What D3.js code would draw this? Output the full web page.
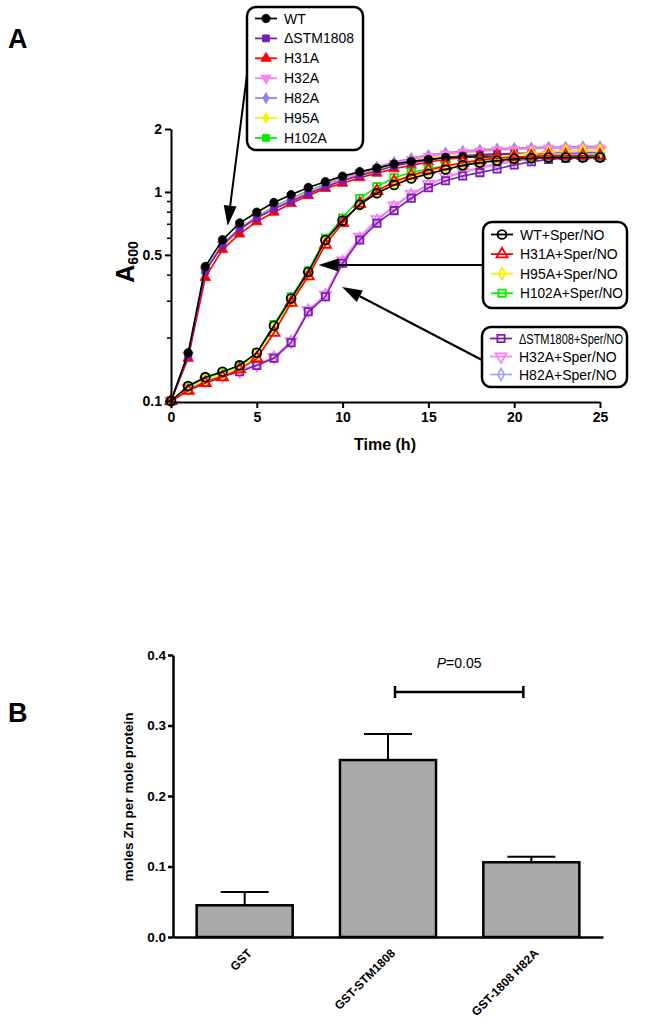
<!DOCTYPE html>
<html><head><meta charset="utf-8">
<script src="https://cdn.jsdelivr.net/npm/d3@7"></script>
<style>
body{margin:0;background:#fff}
svg{display:block}
text{font-family:"Liberation Sans",Arial,Helvetica,sans-serif}
</style>
</head><body>
<svg id="c" width="667" height="1028"></svg>
<script>
// ---------- DATA: panel A ----------
const hours = [0,1,2,3,4,5,6,7,8,9,10,11,12,13,14,15,16,17,18,19,20,21,22,23,24,25];
const wt        = [0.1,0.17,0.44,0.59,0.71,0.80,0.89,0.97,1.05,1.12,1.19,1.25,1.30,1.36,1.40,1.43,1.46,1.47,1.47,1.47,1.46,1.46,1.46,1.46,1.46,1.46];
const dSTM      = [0.1,0.165,0.42,0.555,0.665,0.75,0.83,0.90,0.98,1.06,1.13,1.20,1.26,1.33,1.38,1.42,1.46,1.49,1.51,1.52,1.53,1.53,1.54,1.54,1.54,1.54];
const h31a      = [0.1,0.16,0.39,0.53,0.63,0.72,0.80,0.88,0.96,1.04,1.10,1.17,1.23,1.29,1.34,1.39,1.43,1.46,1.49,1.51,1.52,1.52,1.53,1.53,1.53,1.53];
const h32a      = [0.1,0.165,0.42,0.56,0.67,0.76,0.84,0.92,1.00,1.08,1.15,1.23,1.30,1.37,1.43,1.48,1.52,1.55,1.57,1.59,1.60,1.61,1.62,1.62,1.62,1.62];
const h82a      = [0.1,0.165,0.42,0.56,0.67,0.76,0.84,0.92,1.00,1.08,1.16,1.24,1.32,1.39,1.45,1.50,1.54,1.57,1.59,1.61,1.62,1.63,1.64,1.64,1.65,1.65];
const h95a      = [0.1,0.165,0.42,0.55,0.66,0.75,0.83,0.91,0.99,1.06,1.13,1.20,1.27,1.34,1.40,1.45,1.50,1.53,1.56,1.58,1.60,1.61,1.62,1.62,1.62,1.62];
const h102a     = [0.1,0.165,0.42,0.56,0.67,0.76,0.85,0.93,1.01,1.09,1.16,1.22,1.28,1.34,1.39,1.43,1.46,1.48,1.50,1.51,1.51,1.52,1.52,1.52,1.52,1.52];
const wtNO      = [0.1,0.118,0.130,0.138,0.148,0.170,0.229,0.309,0.414,0.589,0.729,0.869,0.986,1.08,1.16,1.22,1.28,1.34,1.38,1.41,1.44,1.45,1.46,1.46,1.46,1.46];
const h31aNO    = [0.1,0.112,0.122,0.130,0.142,0.160,0.212,0.295,0.395,0.560,0.71,0.88,1.01,1.12,1.20,1.27,1.33,1.38,1.42,1.45,1.47,1.48,1.49,1.49,1.49,1.49];
const h95aNO    = [0.1,0.115,0.126,0.134,0.145,0.166,0.222,0.300,0.400,0.575,0.72,0.87,1.00,1.10,1.18,1.25,1.31,1.37,1.42,1.46,1.50,1.53,1.55,1.57,1.58,1.58];
const h102aNO   = [0.1,0.117,0.129,0.137,0.148,0.170,0.232,0.315,0.420,0.600,0.75,0.93,1.06,1.17,1.24,1.29,1.33,1.36,1.39,1.42,1.44,1.46,1.47,1.48,1.48,1.48];
const dSTMNO    = [0.1,0.114,0.124,0.131,0.138,0.148,0.160,0.190,0.267,0.315,0.456,0.589,0.709,0.814,0.933,1.048,1.132,1.193,1.237,1.288,1.346,1.396,1.43,1.45,1.46,1.46];
const h32aNO    = [0.1,0.115,0.125,0.132,0.139,0.149,0.162,0.193,0.272,0.322,0.47,0.61,0.74,0.86,0.98,1.09,1.18,1.25,1.31,1.37,1.42,1.47,1.51,1.54,1.56,1.58];
const h82aNO    = [0.1,0.115,0.125,0.132,0.139,0.149,0.162,0.193,0.272,0.322,0.465,0.60,0.73,0.85,0.97,1.08,1.17,1.24,1.30,1.35,1.40,1.44,1.47,1.50,1.52,1.53];

const xTicksA = [0,5,10,15,20,25];
const yTicksA = [0.1,0.5,1,2];
const yMinorA = [0.2,0.3,0.4,0.6,0.7,0.8,0.9];

// legend groups (names, colours, markers)
const legend1 = [
  {name:"WT",       values:wt,    color:"#000000", shape:"circle",  open:false},
  {name:"\u0394STM1808", values:dSTM, color:"#7a1fb0", shape:"square", open:false},
  {name:"H31A",     values:h31a,  color:"#ff0000", shape:"triangle",open:false},
  {name:"H32A",     values:h32a,  color:"#ff80f0", shape:"tridown", open:false},
  {name:"H82A",     values:h82a,  color:"#9a82ea", shape:"diamond", open:false},
  {name:"H95A",     values:h95a,  color:"#f2f200", shape:"diamond", open:false},
  {name:"H102A",    values:h102a, color:"#00ee00", shape:"square",  open:false}
];
const legend2 = [
  {name:"WT+Sper/NO",   values:wtNO,    color:"#000000", shape:"circle",  open:true},
  {name:"H31A+Sper/NO", values:h31aNO,  color:"#ff0000", shape:"triangle",open:true},
  {name:"H95A+Sper/NO", values:h95aNO,  color:"#f2f200", shape:"diamond", open:true},
  {name:"H102A+Sper/NO",values:h102aNO, color:"#00ee00", shape:"square",  open:true}
];
const legend3 = [
  {name:"\u0394STM1808+Sper/NO", values:dSTMNO, color:"#7a1fb0", shape:"square", open:true},
  {name:"H32A+Sper/NO", values:h32aNO, color:"#ff80f0", shape:"tridown", open:true},
  {name:"H82A+Sper/NO", values:h82aNO, color:"#a8a8f8", shape:"diamond", open:true}
];
// arrow tips in data coordinates [hour, A600]
const arrowTips = [[3.3,0.69],[8.6,0.447],[9.97,0.351]];

// ---------- DATA: panel B ----------
const bCats = ["GST","GST-STM1808","GST-1808 H82A"];
const bMeans = [0.045,0.251,0.106];
const bErr   = [0.019,0.037,0.008];
const yTicksB = [0,0.1,0.2,0.3,0.4];
const pLabel = "0.05";

// ---------- DRAW ----------
const svg = d3.select("#c");
const ff = '"Liberation Sans",Arial,sans-serif';

// Panel A scales
const xA = d3.scaleLinear().domain([0,25]).range([171,600]);
const yA = d3.scaleLog().domain([0.1,2]).range([401,129]);

function symPath(shape, size){
  const t = {circle:d3.symbolCircle, square:d3.symbolSquare, triangle:d3.symbolTriangle,
             tridown:d3.symbolTriangle, diamond:d3.symbolDiamond}[shape];
  return d3.symbol().type(t).size(size)();
}
const symSize = {circle:56, square:48, triangle:48, tridown:48, diamond:36};

function drawMarker(g, s, x, y){
  const sz = symSize[s.shape];
  g.append("path")
    .attr("d", symPath(s.shape, s.open? sz*1.1 : sz))
    .attr("transform", `translate(${x},${y})` + (s.shape==="tridown"?" rotate(180)":""))
    .attr("fill", s.open ? "none" : s.color)
    .attr("stroke", s.color)
    .attr("stroke-width", s.open ? 1.8 : 0.8);
}

const line = d3.line().x((d,i)=>xA(hours[i])).y(d=>yA(d));
const plotA = svg.append("g");
const drawOrder = [legend1[6],legend1[5],legend1[4],legend1[3],legend1[2],legend1[1],legend1[0],
                   legend3[2],legend3[1],legend3[0],legend2[3],legend2[2],legend2[1],legend2[0]];
drawOrder.forEach(s=>{
  plotA.append("path").datum(s.values).attr("d", line)
    .attr("fill","none").attr("stroke", s.color).attr("stroke-width",1.6);
  s.values.forEach((v,i)=> drawMarker(plotA, s, xA(hours[i]), yA(v)));
});

// Axes A
const axA = svg.append("g").attr("transform",`translate(${xA(0)},0)`)
  .call(d3.axisLeft(yA).tickValues(yTicksA).tickFormat(d=>d).tickSize(6).tickSizeOuter(0).tickPadding(3));
axA.selectAll("text").attr("font-size",14).attr("font-weight","bold").attr("font-family",ff).attr("fill","#000");
axA.select(".domain").attr("stroke-width",2);
axA.selectAll(".tick line").attr("stroke-width",2);
svg.append("g").selectAll("line").data(yMinorA).join("line")
  .attr("x1",xA(0)-4).attr("x2",xA(0)).attr("y1",d=>yA(d)).attr("y2",d=>yA(d))
  .attr("stroke","#000").attr("stroke-width",1.5);

const axXA = svg.append("g").attr("transform",`translate(0,${yA(0.1)+1})`)
  .call(d3.axisBottom(xA).tickValues(xTicksA).tickSize(6).tickSizeOuter(0).tickPadding(4));
axXA.selectAll("text").attr("font-size",14).attr("font-weight","bold").attr("font-family",ff).attr("fill","#000");
axXA.select(".domain").attr("stroke-width",2);
axXA.selectAll(".tick line").attr("stroke-width",2);

svg.append("text").attr("x",385).attr("y",450).attr("text-anchor","middle")
  .attr("font-size",16).attr("font-weight","bold").text("Time (h)");
const yl = svg.append("text").attr("transform","translate(134,262) rotate(-90)").attr("text-anchor","middle")
  .attr("font-weight","bold");
yl.append("tspan").attr("font-size",25).text("A");
yl.append("tspan").attr("font-size",14).attr("dy",4).text("600");

svg.append("text").attr("x",8).attr("y",48).attr("font-size",27).attr("font-weight","bold").text("A");

// Legends
function drawLegend(items, x0, y0, w, rowH, top, h){
  const g = svg.append("g");
  g.append("rect").attr("x",x0).attr("y",top).attr("width",w).attr("height",h)
    .attr("rx",9).attr("fill","#fff").attr("stroke","#000").attr("stroke-width",2.5);
  items.forEach((s,i)=>{
    const y = y0 + i*rowH;
    g.append("line").attr("x1",x0+8).attr("x2",x0+30).attr("y1",y).attr("y2",y)
      .attr("stroke",s.color).attr("stroke-width",1.8);
    drawMarker(g, s, x0+19, y);
    const t = g.append("text").attr("x",x0+37).attr("y",y+5).attr("font-size",14).attr("fill","#000").text(s.name);
    const maxW = w - 41;
    if (t.node().getComputedTextLength() > maxW) t.attr("textLength", maxW).attr("lengthAdjust","spacingAndGlyphs");
  });
}
function arrow(x1,y1,x2,y2){
  const g = svg.append("g");
  const a = Math.atan2(y2-y1,x2-x1), L=20, W=6.5;
  const bx = x2 - L*Math.cos(a), by = y2 - L*Math.sin(a);
  g.append("line").attr("x1",x1).attr("y1",y1).attr("x2",bx).attr("y2",by)
    .attr("stroke","#000").attr("stroke-width",2);
  const px = -Math.sin(a)*W, py = Math.cos(a)*W;
  g.append("path").attr("d",`M${x2},${y2}L${bx+px},${by+py}L${bx-px},${by-py}Z`).attr("fill","#000");
}
arrow(248,67, xA(arrowTips[0][0]), yA(arrowTips[0][1]));
arrow(483,265, xA(arrowTips[1][0]), yA(arrowTips[1][1]));
arrow(482,360, xA(arrowTips[2][0]), yA(arrowTips[2][1]));

drawLegend(legend1, 247, 18.5, 116, 19.9, 7, 143);
drawLegend(legend2, 483, 234.5, 144, 19.6, 222, 86);
drawLegend(legend3, 482, 338.5, 145, 18, 327, 60);

// ---------- Panel B ----------
const xB = d3.scaleBand().domain(bCats).range([173,603]).paddingInner(0.33).paddingOuter(0.165);
const yB = d3.scaleLinear().domain([0,0.4]).range([937,655]);

const gB = svg.append("g");
gB.selectAll("rect").data(bCats).join("rect")
  .attr("x",d=>xB(d)).attr("width",xB.bandwidth())
  .attr("y",(d,i)=>yB(bMeans[i])).attr("height",(d,i)=>yB(0)-yB(bMeans[i]))
  .attr("fill","#a9a9a9").attr("stroke","#000").attr("stroke-width",2.5);
bCats.forEach((c,i)=>{
  const cx = xB(c)+xB.bandwidth()/2;
  gB.append("line").attr("x1",cx).attr("x2",cx).attr("y1",yB(bMeans[i])).attr("y2",yB(bMeans[i]+bErr[i]))
    .attr("stroke","#000").attr("stroke-width",2);
  gB.append("line").attr("x1",cx-24).attr("x2",cx+24).attr("y1",yB(bMeans[i]+bErr[i])).attr("y2",yB(bMeans[i]+bErr[i]))
    .attr("stroke","#000").attr("stroke-width",2);
});

const axB = svg.append("g").attr("transform","translate(173,0)")
  .call(d3.axisLeft(yB).tickValues(yTicksB).tickFormat(d3.format(".1f")).tickSize(5).tickSizeOuter(0).tickPadding(2));
axB.selectAll("text").attr("font-size",13.5).attr("font-weight","bold").attr("font-family",ff).attr("fill","#000");
axB.select(".domain").attr("stroke-width",2.5);
axB.selectAll(".tick line").attr("stroke-width",2.5);

const axXB = svg.append("g").attr("transform","translate(0,937)")
  .call(d3.axisBottom(xB).tickSize(0).tickSizeOuter(0).tickPadding(0));
axXB.select(".domain").attr("stroke-width",2.5);
axXB.selectAll("text").attr("font-size",12).attr("font-weight","bold").attr("font-family",ff).attr("fill","#000")
  .attr("text-anchor","end").attr("transform","translate(5,14) rotate(-45)").attr("dy","0.35em");

svg.append("text").attr("transform","translate(133,797) rotate(-90)").attr("text-anchor","middle")
  .attr("font-size",13.5).attr("font-weight","bold").text("moles Zn per mole protein");
svg.append("text").attr("x",8).attr("y",722).attr("font-size",27).attr("font-weight","bold").text("B");

// significance bracket
const bx1 = xB(bCats[1])+xB.bandwidth()/2+7, bx2 = xB(bCats[2])+xB.bandwidth()/2-8, byy = 692;
const sg = svg.append("g").attr("stroke","#000").attr("stroke-width",2.5);
sg.append("line").attr("x1",bx1).attr("x2",bx2).attr("y1",byy).attr("y2",byy);
sg.append("line").attr("x1",bx1).attr("x2",bx1).attr("y1",byy-6).attr("y2",byy+6);
sg.append("line").attr("x1",bx2).attr("x2",bx2).attr("y1",byy-6).attr("y2",byy+6);
const pt = svg.append("text").attr("x",(bx1+bx2)/2).attr("y",668).attr("text-anchor","middle").attr("font-size",14);
pt.append("tspan").attr("font-style","italic").text("P");
pt.append("tspan").text("="+pLabel);
</script>
</body></html>
